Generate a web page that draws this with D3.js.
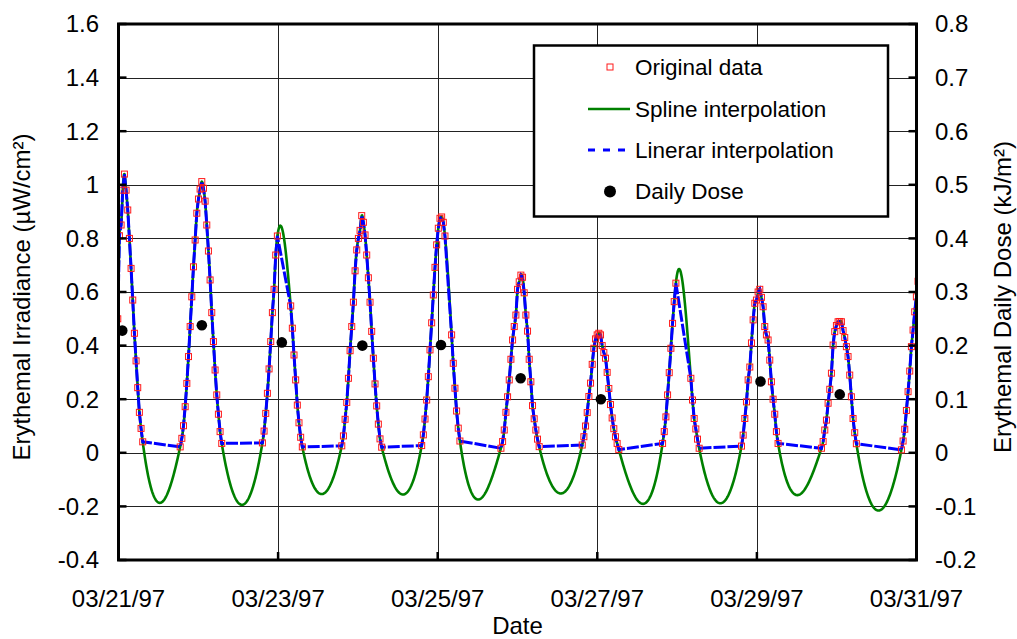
<!DOCTYPE html>
<html>
<head>
<meta charset="utf-8">
<script src="https://cdn.jsdelivr.net/npm/d3@7/dist/d3.min.js"></script>
<style>
  html, body { margin: 0; padding: 0; background: #ffffff; }
  svg { display: block; font-family: "Liberation Sans", Arial, sans-serif; }
</style>
</head>
<body>
<svg id="chart" width="1017" height="639"></svg>
<script>
// ---- Data -------------------------------------------------------------
// Erythemal irradiance (µW/cm²), sampled every 30 minutes during daylight.
// Each day: time of the first sample and the sample values (null = missing).
const sampleStepMinutes = 30;
const dayStarts = [
  "1997-03-20 22:17", "1997-03-21 18:33", "1997-03-22 19:17", "1997-03-23 19:09",
  "1997-03-24 19:11", "1997-03-25 19:01", "1997-03-26 19:28", "1997-03-27 19:38",
  "1997-03-28 19:22", "1997-03-29 19:25", "1997-03-30 19:28"
];
const dayValues = [
  [0.10, 0.20, 0.33, 0.50, 0.81, 0.85, 0.98, 1.04, 0.98, 0.906, 0.80, 0.688, 0.57, 0.446, 0.343, 0.243, 0.151, 0.091, 0.041],
  [0.022, 0.054, 0.101, 0.172, 0.259, 0.359, 0.471, 0.582, 0.694, 0.794, 0.894, 0.947, 0.984, 1.012, 0.987, 0.939, 0.85, 0.753, 0.645, 0.523, 0.415, 0.309, 0.216, 0.144, 0.079, 0.035],
  [0.037, 0.081, 0.147, 0.222, 0.313, 0.415, 0.523, 0.610, 0.738, 0.809, null, null, null, null, null, null, null, 0.548, 0.465, 0.365, 0.272, 0.178, 0.112, 0.058, 0.022],
  [0.026, 0.063, 0.125, 0.188, 0.278, 0.381, 0.471, 0.562, 0.679, 0.757, 0.80, 0.83, 0.885, 0.86, 0.813, 0.738, 0.653, 0.562, 0.453, 0.353, 0.257, 0.175, 0.107, 0.052, 0.021],
  [0.027, 0.067, 0.126, 0.197, 0.284, 0.384, 0.485, 0.589, 0.692, 0.776, 0.838, 0.875, 0.88, 0.86, 0.809, null, null, null, 0.44, 0.334, 0.241, 0.156, 0.092, 0.044],
  [0.017, 0.042, 0.085, 0.151, 0.209, 0.272, 0.349, 0.421, 0.471, 0.514, 0.61, 0.638, 0.663, 0.655, 0.597, 0.514, 0.454, 0.349, 0.265, 0.176, 0.127, 0.085, 0.051, 0.023],
  [0.029, 0.06, 0.10, 0.15, 0.21, 0.26, 0.33, 0.39, 0.425, 0.44, 0.446, 0.44, 0.40, 0.374, 0.353, 0.30, 0.24, 0.18, 0.13, 0.09, 0.06, 0.035, 0.012],
  [0.035, 0.079, 0.134, 0.216, 0.299, 0.39, 0.483, 0.564, 0.633, null, null, null, null, null, null, null, null, 0.278, 0.197, 0.128, 0.089, 0.051, 0.017],
  [0.025, 0.066, 0.128, 0.19, 0.272, 0.32, 0.41, 0.496, 0.558, 0.57, 0.60, 0.61, 0.58, 0.545, 0.471, 0.44, 0.421, 0.346, 0.265, 0.20, 0.144, 0.079, 0.035],
  [0.017, 0.042, 0.085, 0.122, 0.185, 0.237, 0.297, 0.402, 0.452, 0.475, 0.489, 0.49, 0.489, 0.456, 0.43, 0.396, 0.359, 0.29, 0.209, 0.128, 0.075, 0.034],
  [0.011, 0.044, 0.088, 0.158, 0.228, 0.305, 0.396, 0.458, 0.526, 0.582, 0.64, 0.70, 0.76]
];

// Erythemal daily dose (kJ/m²)
const doseTimes = [
  "1997-03-21 01:08", "1997-03-22 01:04", "1997-03-23 01:07", "1997-03-24 01:20",
  "1997-03-25 00:59", "1997-03-26 00:57", "1997-03-27 01:05", "1997-03-29 01:05",
  "1997-03-30 00:55"
];
const doseValues = [0.228, 0.238, 0.206, 0.200, 0.201, 0.139, 0.100, 0.133, 0.109];

// Axes
const dateDomain = ["1997-03-21 00:00", "1997-03-31 00:00"];
const dateTicks = ["1997-03-21 00:00", "1997-03-23 00:00", "1997-03-25 00:00",
                   "1997-03-27 00:00", "1997-03-29 00:00", "1997-03-31 00:00"];
const irradianceTicks = [-0.4, -0.2, 0, 0.2, 0.4, 0.6, 0.8, 1, 1.2, 1.4, 1.6];
const doseTicks = [-0.2, -0.1, 0, 0.1, 0.2, 0.3, 0.4, 0.5, 0.6, 0.7, 0.8];

const legendItems = ["Original data", "Spline interpolation", "Linerar interpolation", "Daily Dose"];

// ---- Build records ------------------------------------------------------
const parse = d3.timeParse("%Y-%m-%d %H:%M");
const samples = [];
dayStarts.forEach((s, i) => {
  const t0 = parse(s);
  dayValues[i].forEach((v, j) => {
    if (v !== null) samples.push({ t: d3.timeMinute.offset(t0, j * sampleStepMinutes), v });
  });
});
const doses = doseTimes.map((s, i) => ({ t: parse(s), v: doseValues[i] }));

// ---- Layout -------------------------------------------------------------
const plot = { left: 118.5, top: 24, right: 916.5, bottom: 560 };
const svg = d3.select("#chart");

const x = d3.scaleTime().domain(dateDomain.map(parse)).range([plot.left, plot.right]);
const y = d3.scaleLinear().domain([-0.4, 1.6]).range([plot.bottom, plot.top]);
const y2 = d3.scaleLinear().domain([-0.2, 0.8]).range([plot.bottom, plot.top]);
const fmtNum = v => String(+v.toFixed(2));
const fmtDate = d3.timeFormat("%m/%d/%y");

svg.append("defs").append("clipPath").attr("id", "plotClip")
  .append("rect")
  .attr("x", plot.left).attr("y", plot.top)
  .attr("width", plot.right - plot.left).attr("height", plot.bottom - plot.top);

// ---- Gridlines ------------------------------------------------------------
const grid = svg.append("g").attr("stroke", "#222").attr("stroke-width", 1);
grid.selectAll("line.h").data(irradianceTicks).join("line")
  .attr("x1", plot.left).attr("x2", plot.right)
  .attr("y1", d => Math.round(y(d)) + 0.5).attr("y2", d => Math.round(y(d)) + 0.5);
grid.selectAll("line.v").data(dateTicks.map(parse)).join("line")
  .attr("y1", plot.top).attr("y2", plot.bottom)
  .attr("x1", d => Math.round(x(d)) + 0.5).attr("x2", d => Math.round(x(d)) + 0.5);

// ---- Natural cubic spline through the samples (time in days) ---------------
function naturalSpline(pts) {
  const n = pts.length;
  const xs = pts.map(p => +p.t / 86400000), ys = pts.map(p => p.v);
  const h = d3.range(n - 1).map(i => xs[i + 1] - xs[i]);
  const a = new Array(n).fill(0), b = new Array(n).fill(1), c = new Array(n).fill(0), r = new Array(n).fill(0);
  for (let i = 1; i < n - 1; i++) {
    a[i] = h[i - 1]; b[i] = 2 * (h[i - 1] + h[i]); c[i] = h[i];
    r[i] = 6 * ((ys[i + 1] - ys[i]) / h[i] - (ys[i] - ys[i - 1]) / h[i - 1]);
  }
  // Thomas algorithm
  for (let i = 1; i < n; i++) {
    const m = a[i] / b[i - 1];
    b[i] -= m * c[i - 1];
    r[i] -= m * r[i - 1];
  }
  const M = new Array(n).fill(0);
  M[n - 1] = r[n - 1] / b[n - 1];
  for (let i = n - 2; i >= 0; i--) M[i] = (r[i] - c[i] * M[i + 1]) / b[i];
  const out = [];
  for (let i = 0; i < n - 1; i++) {
    const px = Math.abs(x(pts[i + 1].t) - x(pts[i].t));
    const steps = Math.max(2, Math.ceil(px * 2));
    for (let k = 0; k < steps; k++) {
      const s = xs[i] + h[i] * k / steps;
      const A = (xs[i + 1] - s) / h[i], B = (s - xs[i]) / h[i];
      const v = A * ys[i] + B * ys[i + 1] +
        ((A * A * A - A) * M[i] + (B * B * B - B) * M[i + 1]) * h[i] * h[i] / 6;
      out.push({ t: new Date(s * 86400000), v });
    }
  }
  out.push(pts[n - 1]);
  return out;
}
const splinePts = naturalSpline(samples);

const marks = svg.append("g").attr("clip-path", "url(#plotClip)");
const line = d3.line().x(d => x(d.t)).y(d => y(d.v));

marks.append("path").datum(splinePts)
  .attr("d", line).attr("fill", "none")
  .attr("stroke", "#008000").attr("stroke-width", 2.6).attr("stroke-linejoin", "round");

marks.append("path").datum(samples)
  .attr("d", line).attr("fill", "none")
  .attr("stroke", "#0000ff").attr("stroke-width", 3).attr("stroke-dasharray", "12,2");

marks.selectAll("rect.obs").data(samples).join("rect")
  .attr("class", "obs")
  .attr("x", d => x(d.t) - 3).attr("y", d => y(d.v) - 3)
  .attr("width", 6).attr("height", 6)
  .attr("fill", "none").attr("stroke", "#ff1a1a").attr("stroke-width", 1);

marks.selectAll("circle.dose").data(doses).join("circle")
  .attr("class", "dose")
  .attr("cx", d => x(d.t)).attr("cy", d => y2(d.v)).attr("r", 5.3)
  .attr("fill", "#000");

// ---- Frame and tick marks -------------------------------------------------
svg.append("rect")
  .attr("x", plot.left).attr("y", plot.top)
  .attr("width", plot.right - plot.left).attr("height", plot.bottom - plot.top)
  .attr("fill", "none").attr("stroke", "#000").attr("stroke-width", 3);

const ticks = svg.append("g").attr("stroke", "#000").attr("stroke-width", 2.5);
ticks.selectAll("line.l").data(irradianceTicks).join("line")
  .attr("x1", plot.left).attr("x2", plot.left + 8)
  .attr("y1", d => y(d)).attr("y2", d => y(d));
ticks.selectAll("line.r").data(doseTicks).join("line")
  .attr("x1", plot.right - 8).attr("x2", plot.right)
  .attr("y1", d => y2(d)).attr("y2", d => y2(d));
ticks.selectAll("line.b").data(dateTicks.map(parse)).join("line")
  .attr("x1", d => x(d)).attr("x2", d => x(d))
  .attr("y1", plot.bottom - 8).attr("y2", plot.bottom);

// ---- Tick labels ----------------------------------------------------------
const labels = svg.append("g").attr("font-size", 24).attr("fill", "#000");
labels.selectAll("text.l").data(irradianceTicks).join("text")
  .attr("x", 99).attr("y", d => y(d)).attr("dy", "0.35em")
  .attr("text-anchor", "end").text(fmtNum);
labels.selectAll("text.r").data(doseTicks).join("text")
  .attr("x", 935).attr("y", d => y2(d)).attr("dy", "0.35em")
  .attr("text-anchor", "start").text(fmtNum);
labels.selectAll("text.b").data(dateTicks.map(parse)).join("text")
  .attr("x", d => x(d)).attr("y", 607)
  .attr("text-anchor", "middle").text(fmtDate);

// ---- Axis titles ------------------------------------------------------------
svg.append("text").attr("font-size", 24).attr("text-anchor", "middle")
  .attr("x", (plot.left + plot.right) / 2).attr("y", 634).text("Date");
svg.append("text").attr("font-size", 24).attr("text-anchor", "middle")
  .attr("transform", `translate(30,${(plot.top + plot.bottom) / 2 + 5}) rotate(-90)`)
  .text("Erythemal Irradiance (µW/cm²)");
svg.append("text").attr("font-size", 24).attr("text-anchor", "middle")
  .attr("transform", `translate(1011,${(plot.top + plot.bottom) / 2 + 5}) rotate(-90)`)
  .text("Erythemal Daily Dose (kJ/m²)");

// ---- Legend -------------------------------------------------------------------
const legend = svg.append("g");
legend.append("rect")
  .attr("x", 534).attr("y", 45.5).attr("width", 354).attr("height", 171)
  .attr("fill", "#fff").attr("stroke", "#000").attr("stroke-width", 2.5);
const rowY = [67, 109, 150, 191.5];
legend.append("rect").attr("x", 607).attr("y", rowY[0] - 3).attr("width", 6).attr("height", 6)
  .attr("fill", "none").attr("stroke", "#ff1a1a").attr("stroke-width", 1);
legend.append("line").attr("x1", 588).attr("x2", 630).attr("y1", rowY[1]).attr("y2", rowY[1])
  .attr("stroke", "#008000").attr("stroke-width", 2.6);
legend.append("line").attr("x1", 588).attr("x2", 628).attr("y1", rowY[2]).attr("y2", rowY[2])
  .attr("stroke", "#0000ff").attr("stroke-width", 3).attr("stroke-dasharray", "7,8");
legend.append("circle").attr("cx", 610).attr("cy", rowY[3]).attr("r", 6).attr("fill", "#000");
legend.selectAll("text").data(legendItems).join("text")
  .attr("x", 635).attr("y", (d, i) => rowY[i]).attr("dy", "0.35em")
  .attr("font-size", 22.5).text(d => d);
</script>
</body>
</html>
